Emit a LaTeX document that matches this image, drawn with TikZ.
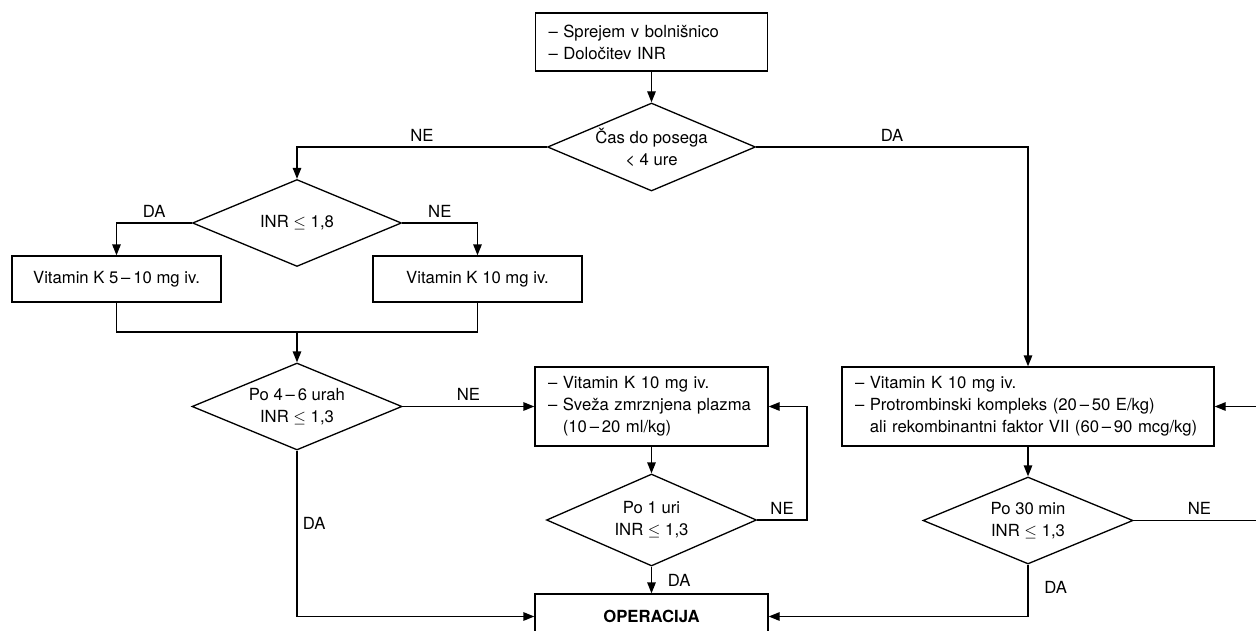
\documentclass[tikz,border=0pt]{standalone}
\usepackage{fontspec}
\setmainfont{TeX Gyre Heros}
\usetikzlibrary{shapes.geometric, arrows.meta}

\begin{document}
\begin{tikzpicture}[
  font=\fontsize{9.5}{12.5}\selectfont,
  line width=0.75pt,
  >={Triangle[length=2.2mm, width=1.7mm]},
  box/.style={draw, align=left, inner xsep=0.26cm, inner ysep=0pt},
  decision/.style={draw, diamond, aspect=2.4, inner sep=0pt, align=center},
  yesno/.style={inner sep=3pt},
]
  \useasboundingbox (0,0) rectangle (25.12,-12.62);

  % Admission and first decision
  \node[box, text width=4.12cm, minimum height=1.16cm] (start) at (13.03,-0.84)
    {-- Sprejem v bolnišnico\\-- Določitev INR};
  \node[decision, minimum width=4.16cm, minimum height=1.76cm] (q1) at (13.03,-2.94)
    {Čas do posega\\< 4 ure};

  % Left branch: more than 4 hours
  \node[decision, minimum width=4.18cm, minimum height=1.74cm] (q2) at (5.94,-4.46)
    {INR $\leq$ 1,8};
  \node[box, minimum width=4.18cm, minimum height=0.92cm] (boxA) at (2.33,-5.58)
    {Vitamin K 5\,--\,10 mg iv.};
  \node[box, minimum width=4.18cm, minimum height=0.92cm] (boxB) at (9.55,-5.58)
    {Vitamin K 10 mg iv.};
  \coordinate (join) at (5.94,-6.64);
  \node[decision, minimum width=4.2cm, minimum height=1.74cm] (q3) at (5.94,-8.13)
    {Po 4\,--\,6 urah\\INR $\leq$ 1,3};
  \node[box, text width=4.14cm, minimum height=1.58cm] (boxC) at (13.03,-8.13)
    {-- Vitamin K 10 mg iv.\\-- Sveža zmrznjena plazma\\\hphantom{--\ }(10\,--\,20 ml/kg)};
  \node[decision, minimum width=4.2cm, minimum height=1.84cm] (q4) at (13.03,-10.4)
    {Po 1 uri\\INR $\leq$ 1,3};
  \coordinate (loopC) at (16.14,-8.13);

  % Right branch: less than 4 hours
  \node[box, text width=6.92cm, minimum height=1.58cm] (boxD) at (20.56,-8.13)
    {-- Vitamin K 10 mg iv.\\-- Protrombinski kompleks (20\,--\,50 E/kg)\\\hphantom{--\ }ali rekombinantni faktor VII (60\,--\,90 mcg/kg)};
  \node[decision, minimum width=4.2cm, minimum height=1.74cm] (q5) at (20.56,-10.41)
    {Po 30 min\\INR $\leq$ 1,3};
  \coordinate (loopD) at (25.3,-8.13);

  % Surgery
  \node[box, minimum width=4.66cm, minimum height=0.9cm] (op) at (13.03,-12.33)
    {\textbf{OPERACIJA}};

  % Connectors
  \draw[->] (start) -- (q1);
  \draw[->] (q1.west) -| node[yesno, above, pos=0.25] {NE} (q2.north);
  \draw[->] (q1.east) -| node[yesno, above, pos=0.25] {DA} (boxD.north);
  \draw[->] (q2.west) -| node[yesno, above, pos=0.25] {DA} (boxA.north);
  \draw[->] (q2.east) -| node[yesno, above, pos=0.25] {NE} (boxB.north);
  \draw (boxA.south) |- (join) -| (boxB.south);
  \draw[->] (join) -- (q3.north);
  \draw[->] (q3.east) -- node[yesno, above] {NE} (boxC.west);
  \draw[->] (q3.south) |- node[yesno, right, pos=0.22] {DA} (op.west);
  \draw[->] (boxC) -- (q4);
  \draw[->] (q4.east) -| node[yesno, above, pos=0.25] {NE} (loopC) -- (boxC.east);
  \draw[->] (q4) -- node[yesno, right=6pt] {DA} (op);
  \draw[->] (boxD) -- (q5);
  \draw[->] (q5.east) -| node[yesno, above, pos=0.25] {NE} (loopD) -- (boxD.east);
  \draw[->] (q5.south) |- node[yesno, right=6pt, pos=0.22] {DA} (op.east);
\end{tikzpicture}
\end{document}
